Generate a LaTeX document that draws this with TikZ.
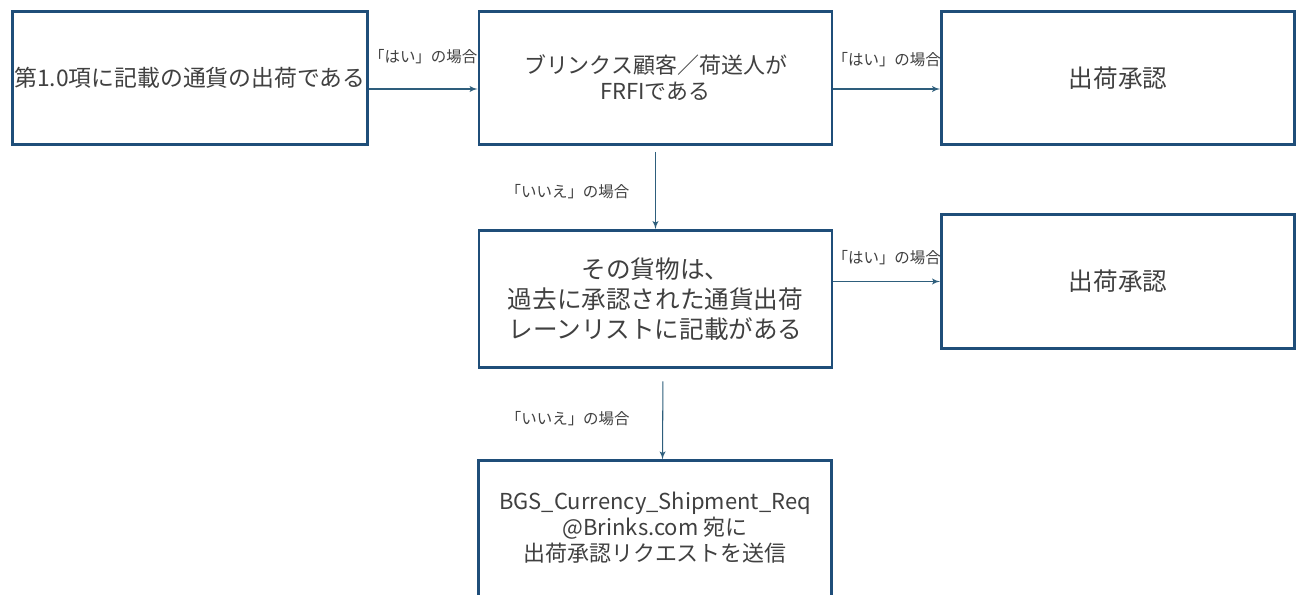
\documentclass[tikz,border=0pt]{standalone}
\usepackage{fontspec}
\setmainfont{Noto Sans CJK JP}
\usetikzlibrary{positioning,arrows}

\definecolor{boxblue}{RGB}{31,78,121}
\definecolor{linkblue}{RGB}{46,94,124}
\definecolor{textgray}{RGB}{64,64,64}

\begin{document}
\begin{tikzpicture}[
    thick,
    block/.style={
        rectangle,
        draw=boxblue,
        line width=1.6pt,
        fill=white,
        minimum width=7.06cm,
        minimum height=2.66cm,
        text centered,
        align=center,
        text=textgray,
        font=\fontsize{12.5}{14.8}\selectfont
    },
    big/.style={font=\fontsize{14}{17}\selectfont},
    line/.style={draw=linkblue, line width=0.6pt, -latex'},
    cond/.style={text=textgray, font=\fontsize{8.8}{10}\selectfont, inner sep=1pt}
]
    \useasboundingbox[fill=white] (0,0) rectangle (26.06,-11.9);
    \clip (0,0) rectangle (26.06,-11.9);

    % Top row
    \node[block, inner xsep=1pt, font=\fontsize{13}{15}\selectfont] (shipment) at (3.8,-1.56) {第1.0項に記載の通貨の出荷である};
    \node[block] (frfi) at (13.11,-1.56) {ブリンクス顧客／荷送人が\\FRFIである};
    \node[block, big] (approve1) at (22.36,-1.56) {出荷承認};

    % Middle row
    \node[block, big, minimum height=2.74cm] (lanelist) at (13.11,-5.98) {その貨物は、\\過去に承認された通貨出荷\\レーンリストに記載がある};
    \node[block, big, minimum height=2.68cm] (approve2) at (22.36,-5.63) {出荷承認};

    % Request
    \node[block, minimum height=0pt, inner ysep=0.62cm, text depth=1cm, anchor=north] (request) at (13.1,-9.19) {BGS\_Currency\_Shipment\_Req\\@Brinks.com 宛に\\出荷承認リクエストを送信};

    % Connections
    \draw[line] ([yshift=-0.22cm]shipment.east) -- ([yshift=-0.22cm]frfi.west)
        node[cond, midway, yshift=0.64cm] {「はい」の場合};
    \draw[line] ([yshift=-0.22cm]frfi.east) -- ([yshift=-0.22cm]approve1.west)
        node[cond, midway, yshift=0.58cm] {「はい」の場合};
    \draw[line, shorten <=0.12cm] (frfi) -- (lanelist)
        node[cond, midway, xshift=-1.76cm, yshift=-0.09cm] {「いいえ」の場合};
    \draw[line] (lanelist.east |- approve2.west) -- (approve2.west)
        node[cond, midway, yshift=0.48cm] {「はい」の場合};
    \draw[line, shorten <=0.25cm] ([xshift=0.15cm]lanelist.south) -- ([xshift=0.15cm]request.north)
        node[cond, midway, xshift=-1.9cm, yshift=-0.09cm] {「いいえ」の場合};
\end{tikzpicture}
\end{document}
